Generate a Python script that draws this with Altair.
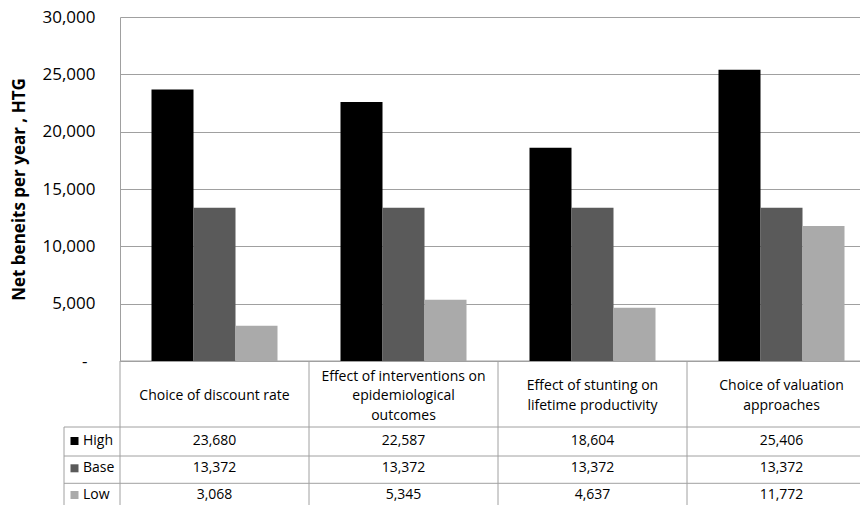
import altair as alt
import pandas as pd

# ---- data ----
categories = [
    "Choice of discount rate",
    "Effect of interventions on epidemiological outcomes",
    "Effect of stunting on lifetime productivity",
    "Choice of valuation approaches",
]
category_labels = [
    "Choice of discount rate",
    "Effect of interventions on\nepidemiological\noutcomes",
    "Effect of stunting on\nlifetime productivity",
    "Choice of valuation\napproaches",
]
series = ["High", "Base", "Low"]
high = [23680, 22587, 18604, 25406]
base = [13372, 13372, 13372, 13372]
low = [3068, 5345, 4637, 11772]
colors = ["#000000", "#5a5a5a", "#aaaaaa"]
y_ticks = [0, 5000, 10000, 15000, 20000, 25000, 30000]
y_title = "Net beneits per year , HTG"

rows = []
for s, vals in zip(series, [high, base, low]):
    for c, v in zip(categories, vals):
        rows.append({"cat": c, "series": s, "value": v})
df = pd.DataFrame(rows)
cat_df = pd.DataFrame({"cat": categories, "label": category_labels})
ser_df = pd.DataFrame({"series": series})

FONT = "Open Sans"
LINE = "#a0a0a0"
PLOT_H = 344
LABEL_CENTER = 379
LINE_H = 19.5
row_y = {"High": 424.0, "Base": 451.3, "Low": 478.0}
row_top = {"High": 410.0, "Base": 439.0, "Low": 466.3}

xscale = alt.Scale(domain=categories, range=[0, 756], paddingInner=1 / 3, paddingOuter=1 / 6)
cscale = alt.Scale(domain=series, range=colors)

bars = alt.Chart(df).mark_bar().encode(
    x=alt.X("cat:N", scale=xscale, axis=None, sort=categories),
    xOffset=alt.XOffset("series:N", sort=series, scale=alt.Scale(domain=series, paddingInner=0, paddingOuter=0)),
    y=alt.Y(
        "value:Q",
        scale=alt.Scale(domain=[0, 30000], nice=False),
        axis=alt.Axis(
            values=y_ticks,
            labelExpr="datum.value == 0 ? '-' : format(datum.value, ',')",
            grid=True,
            gridColor=LINE,
            gridWidth=1,
            domain=True,
            domainColor=LINE,
            ticks=False,
            labelPadding={"condition": {"test": "datum.value == 0", "value": 33}, "value": 25},
            labelFontSize=17,
            labelFont=FONT,
            labelColor="#000000",
            title=y_title,
            titleFont=FONT,
            titleFontSize=17,
            titleFontWeight="bold",
            titleColor="#000000",
            titleX=-101,
            titleY=PLOT_H / 2,
            titleAngle=270,
            titleAlign="center",
            titleBaseline="middle",
        ),
    ),
    color=alt.Color("series:N", scale=cscale, legend=None),
)

# category labels, one layer per label so multi-line blocks are vertically centred
cat_layers = []
for c, lab in zip(categories, category_labels):
    n = lab.count("\n") + 1
    cat_layers.append(
        alt.Chart(cat_df).transform_filter(alt.datum.cat == c).mark_text(
            font=FONT, fontSize=14, lineBreak="\n", lineHeight=LINE_H, baseline="middle",
            align="center", color="#000000"
        ).encode(
            x=alt.X("cat:N", scale=xscale, axis=None, sort=categories),
            y=alt.value(LABEL_CENTER - (n - 1) * LINE_H / 2),
            text="label:N",
        )
    )

value_layers = []
header_layers = []
for s in series:
    value_layers.append(
        alt.Chart(df).transform_filter(alt.datum.series == s).mark_text(
            font=FONT, fontSize=14, baseline="middle", align="center", color="#000000"
        ).encode(
            x=alt.X("cat:N", scale=xscale, axis=None, sort=categories),
            y=alt.value(row_y[s]),
            text=alt.Text("value:Q", format=","),
        )
    )
    sub = alt.Chart(ser_df).transform_filter(alt.datum.series == s)
    header_layers.append(
        sub.mark_text(font=FONT, fontSize=14, baseline="middle", align="left", color="#000000").encode(
            x=alt.value(-37), y=alt.value(row_y[s]), text="series:N"
        )
    )
    header_layers.append(
        sub.mark_square(size=64, opacity=1).encode(
            x=alt.value(-45.5),
            y=alt.value(row_y[s]),
            color=alt.Color("series:N", scale=cscale, legend=None),
        )
    )

inner = alt.layer(bars, *cat_layers, *value_layers, *header_layers)

# table borders
vlines = alt.Chart(cat_df).mark_rule(color=LINE, strokeWidth=1).encode(
    x=alt.X(
        "cat:N",
        scale=alt.Scale(domain=categories, range=[0, 756], paddingInner=0, paddingOuter=0),
        bandPosition=0,
        axis=None,
        sort=categories,
    ),
    y=alt.value(PLOT_H),
    y2=alt.value(500),
)
one = pd.DataFrame({"k": [0]})
axis_line = alt.Chart(one).mark_rule(color=LINE, strokeWidth=1).encode(
    x=alt.value(0), x2=alt.value(770), y=alt.value(PLOT_H)
)
row_lines = [
    alt.Chart(one).mark_rule(color=LINE, strokeWidth=1).encode(
        x=alt.value(-56), x2=alt.value(770), y=alt.value(row_top[s])
    )
    for s in series
]
left_col = alt.Chart(one).mark_rule(color=LINE, strokeWidth=1).encode(
    x=alt.value(-56), y=alt.value(row_top["High"]), y2=alt.value(500)
)

chart = (
    alt.layer(vlines, axis_line, *row_lines, left_col, inner)
    .resolve_scale(x="independent")
    .properties(
        width=740,
        height=PLOT_H,
        autosize="none",
        padding={"left": 112, "top": 9, "right": 0, "bottom": 144},
    )
    .configure_view(stroke=None)
)

chart.save("out.html", embed_options={"renderer": "svg", "actions": False})
